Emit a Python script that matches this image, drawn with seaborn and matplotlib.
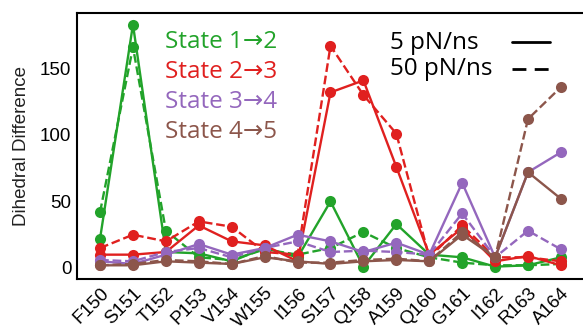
import numpy as np
import pandas as pd
import seaborn as sns
import matplotlib.pyplot as plt
from matplotlib.lines import Line2D

residues = ["F150", "S151", "T152", "P153", "V154", "W155", "I156", "S157",
            "Q158", "A159", "Q160", "G161", "I162", "R163", "A164"]

# valeurs (5 pN/ns = trait plein, 50 pN/ns = tirets)
s12_5 = [22, 183, 12, 11, 5, 15, 8, 50, 1, 33, 10, 8, 1, 2, 8]
s12_50 = [42, 166, 28, 8, 6, 14, 10, 15, 27, 15, 8, 4, 2, 2, 3]
s23_5 = [10, 10, 12, 32, 20, 17, 5, 132, 141, 76, 10, 30, 5, 9, 2]
s23_50 = [15, 25, 20, 35, 31, 12, 10, 167, 130, 101, 8, 32, 8, 8, 5]
s34_5 = [5, 3, 10, 18, 10, 15, 25, 20, 12, 19, 10, 64, 8, 72, 87]
s34_50 = [6, 5, 12, 15, 8, 15, 20, 12, 13, 12, 10, 41, 8, 28, 14]
s45_5 = [2, 2, 5, 4, 3, 8, 5, 3, 5, 6, 5, 25, 8, 72, 52]
s45_50 = [2, 3, 6, 5, 3, 9, 4, 4, 6, 7, 5, 27, 8, 112, 136]

states = ["State 1\u21922", "State 2\u21923", "State 3\u21924", "State 4\u21925"]
colors = ["#22a32a", "#e0201f", "#9467bd", "#8c564b"]
series = [(s12_5, s12_50), (s23_5, s23_50), (s34_5, s34_50), (s45_5, s45_50)]

sns.set_style("white")
plt.rcParams['font.family'] = ['Liberation Sans', 'DejaVu Sans']
plt.rcParams['text.color'] = "black"

fig = plt.figure(figsize=(5.83, 3.3), dpi=100)
ax = fig.add_axes([77/583, 51/330, 506/583, 266/330])

x = np.arange(len(residues))
for (solid, dashed), col in zip(series, colors):
    for vals, ls in ((dashed, "--"), (solid, "-")):
        df = pd.DataFrame({"x": x, "y": vals})
        sns.lineplot(data=df, x="x", y="y", ax=ax, color=col, linestyle=ls,
                     linewidth=1.7, marker="o", markersize=8,
                     markeredgewidth=0, dashes=(4, 2.5) if ls == "--" else "")

ax.set_xlim(-0.7, 14.67)
ax.set_ylim(-8.3, 191.7)
ax.set_yticks([0, 50, 100, 150])
ax.set_xticks(x)
ax.set_xticklabels(residues, rotation=45, ha="right", rotation_mode="anchor")
ax.tick_params(axis="both", labelsize=13.5, length=0, pad=4, labelcolor="black")
ax.set_xlabel("")
ax.set_ylabel("Dihedral Difference", fontsize=13.5, color="#222222")
ax.yaxis.set_label_coords(-0.092, 0.5)
for sp in ["left", "bottom", "top"]:
    ax.spines[sp].set_color("black")
    ax.spines[sp].set_linewidth(1.5)
ax.spines["right"].set_visible(False)

# légende dessinée à la main comme dans la figure
lfam = ['Open Sans', 'DejaVu Sans']
for i, (st, col) in enumerate(zip(states, colors)):
    fig.text(165/583, 1 - (42 + 30*i)/330, st, color=col, fontsize=17.5,
             family=lfam, va="center", ha="left")
fig.text(390/583, 1 - 43/330, "5 pN/ns", fontsize=17.5, family=lfam, va="center")
fig.text(390/583, 1 - 69/330, "50 pN/ns", fontsize=17.5, family=lfam, va="center")
fig.add_artist(Line2D([512/583, 550/583], [1 - 42/330, 1 - 42/330],
                      color="black", lw=2))
fig.add_artist(Line2D([512/583, 550/583], [1 - 69/330, 1 - 69/330],
                      color="black", lw=2, dashes=(5, 3)))

fig.savefig("out.png", dpi=100)
